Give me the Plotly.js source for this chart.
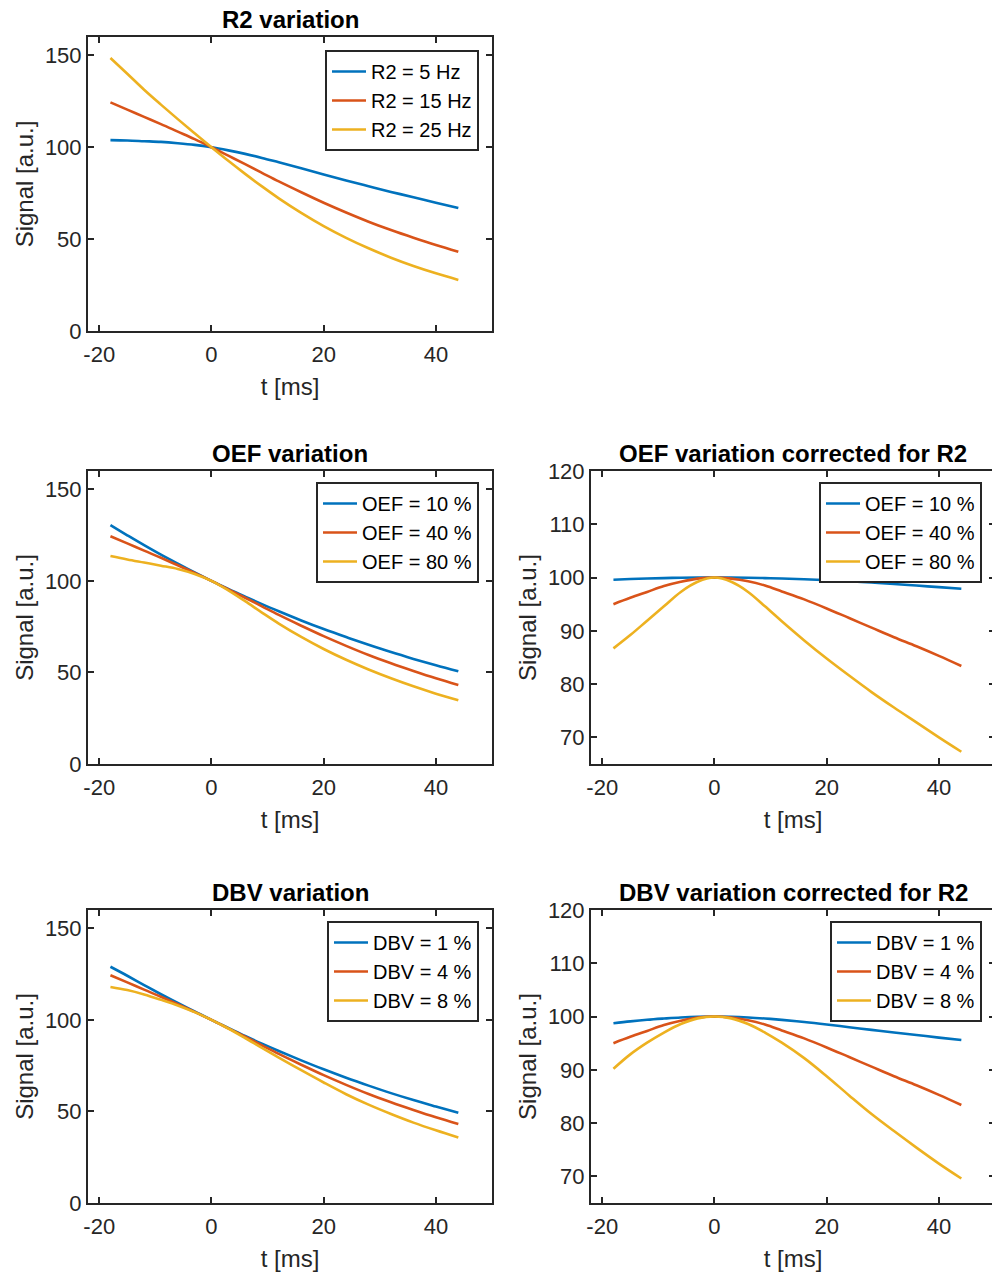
<!DOCTYPE html>
<html>
<head>
<meta charset="utf-8">
<script src="https://cdn.plot.ly/plotly-3.0.1.min.js"></script>
<style>
  html, body { margin: 0; padding: 0; overflow: hidden; background: #ffffff; }
  #chart { width: 1000px; height: 1277px; }
</style>
</head>
<body>
<div id="chart"></div>
<script>
// ---- data ----
var t = [-18, -15, -12, -9, -6, -3, 0, 3, 6, 9, 12, 16, 20, 24, 28, 32, 36, 40, 44];

// R2 variation
var r2_5  = [103.9, 103.7, 103.3, 102.9, 102.2, 101.3, 100, 98.3, 96.4, 94.2, 91.8, 88.6, 85.2, 81.9, 78.8, 75.7, 72.8, 69.8, 66.9];
var r2_15 = [124.4, 120.5, 116.5, 112.6, 108.5, 104.4, 100, 95.4, 90.8, 86.1, 81.4, 75.5, 69.8, 64.5, 59.5, 55.0, 50.8, 46.8, 43.1];
var r2_25 = [148.6, 140.0, 131.3, 123.2, 115.3, 107.6, 100, 92.6, 85.5, 78.7, 72.2, 64.3, 57.1, 50.7, 45.0, 39.9, 35.4, 31.4, 27.8];

// OEF variation
var oef_10 = [130.4, 124.9, 119.5, 114.3, 109.4, 104.6, 100, 95.6, 91.4, 87.3, 83.4, 78.4, 73.7, 69.3, 65.1, 61.1, 57.4, 53.9, 50.6];
var oef_40 = [124.4, 120.5, 116.5, 112.6, 108.5, 104.4, 100, 95.4, 90.8, 86.1, 81.4, 75.5, 69.8, 64.5, 59.5, 55.0, 50.8, 46.8, 43.1];
var oef_80 = [113.6, 111.7, 110.0, 108.3, 106.5, 103.8, 100, 94.8, 88.9, 82.7, 76.7, 69.4, 62.8, 56.9, 51.6, 46.8, 42.4, 38.4, 34.8];

// OEF variation corrected for R2
var oefc_10 = [99.6, 99.73, 99.83, 99.9, 99.96, 100, 100, 100, 99.96, 99.9, 99.83, 99.69, 99.52, 99.32, 99.06, 98.8, 98.5, 98.2, 97.9];
var oefc_40 = [95.0, 96.2, 97.3, 98.4, 99.2, 99.8, 100, 99.8, 99.3, 98.5, 97.4, 95.9, 94.2, 92.4, 90.6, 88.8, 87.1, 85.3, 83.4];
var oefc_80 = [86.7, 89.2, 91.9, 94.6, 97.3, 99.2, 100, 99.2, 97.3, 94.6, 91.8, 88.2, 84.8, 81.6, 78.5, 75.6, 72.8, 70.0, 67.3];

// DBV variation
var dbv_1 = [129.0, 124.1, 119.0, 114.0, 109.2, 104.6, 100, 95.6, 91.2, 87.0, 83.0, 77.9, 73.0, 68.4, 64.1, 60.0, 56.2, 52.7, 49.3];
var dbv_4 = [124.4, 120.5, 116.5, 112.6, 108.5, 104.4, 100, 95.4, 90.8, 86.1, 81.4, 75.5, 69.8, 64.5, 59.5, 55.0, 50.8, 46.8, 43.1];
var dbv_8 = [118.0, 116.3, 113.9, 111.0, 107.9, 104.2, 100, 95.3, 90.1, 84.7, 79.4, 72.5, 65.8, 59.4, 53.7, 48.6, 43.9, 39.7, 35.8];

// DBV variation corrected for R2
var dbvc_1 = [98.75, 99.1, 99.4, 99.63, 99.83, 99.96, 100, 99.96, 99.83, 99.63, 99.38, 98.99, 98.52, 98.0, 97.5, 97.0, 96.55, 96.05, 95.6];
var dbvc_4 = [95.0, 96.2, 97.3, 98.4, 99.2, 99.8, 100, 99.8, 99.3, 98.5, 97.4, 95.9, 94.2, 92.4, 90.6, 88.8, 87.1, 85.3, 83.4];
var dbvc_8 = [90.2, 92.9, 95.1, 97.0, 98.6, 99.66, 100, 99.66, 98.6, 97.0, 95.1, 92.2, 88.8, 85.2, 81.7, 78.5, 75.4, 72.4, 69.6];

var xTicks = [-20, 0, 20, 40];
var xTickLabels = ['-20', '0', '20', '40'];
var yTicksLeft = [0, 50, 100, 150];
var yTicksRight = [70, 80, 90, 100, 110, 120];

var titles = ['R2 variation', 'OEF variation', 'OEF variation corrected for R2', 'DBV variation', 'DBV variation corrected for R2'];
var names = [
  ['R2 = 5 Hz', 'R2 = 15 Hz', 'R2 = 25 Hz'],
  ['OEF = 10 %', 'OEF = 40 %', 'OEF = 80 %'],
  ['OEF = 10 %', 'OEF = 40 %', 'OEF = 80 %'],
  ['DBV = 1 %', 'DBV = 4 %', 'DBV = 8 %'],
  ['DBV = 1 %', 'DBV = 4 %', 'DBV = 8 %']
];
var series = [
  [r2_5, r2_15, r2_25],
  [oef_10, oef_40, oef_80],
  [oefc_10, oefc_40, oefc_80],
  [dbv_1, dbv_4, dbv_8],
  [dbvc_1, dbvc_4, dbvc_8]
];

// ---- styling / layout ----
var colors = ['#0072BD', '#D95319', '#EDB120'];
var W = 1000, H = 1277;
var FONT = 'Liberation Sans, Arial, Helvetica, sans-serif';
var INK = '#262626';

// panel boxes in pixels: [left, right, top, bottom]
var boxes = [
  [88, 492, 37, 331],
  [88, 492, 471, 764],
  [591, 995, 471, 764],
  [88, 492, 910, 1203],
  [591, 995, 910, 1203]
];
var yRanges = [[0, 160], [0, 160], [65, 120], [0, 160], [65, 120]];
var yTickSets = [yTicksLeft, yTicksLeft, yTicksRight, yTicksLeft, yTicksRight];
var legendRight = [479, 479, 982, 479, 982];
var legendTop = [50, 482, 482, 921, 921];

var data = [];
var layout = {
  width: W, height: H,
  margin: {l: 0, r: 0, t: 0, b: 0},
  paper_bgcolor: '#ffffff',
  plot_bgcolor: '#ffffff',
  showlegend: true,
  annotations: [],
  font: {family: FONT, color: INK}
};

for (var p = 0; p < 5; p++) {
  var sfx = p === 0 ? '' : String(p + 1);
  var legId = p === 0 ? 'legend' : 'legend' + (p + 1);
  for (var s = 0; s < 3; s++) {
    data.push({
      type: 'scatter', mode: 'lines',
      x: t, y: series[p][s],
      name: names[p][s],
      line: {color: colors[s], width: 2.6, shape: 'spline', smoothing: 1},
      xaxis: 'x' + sfx, yaxis: 'y' + sfx,
      legend: legId,
      hoverinfo: 'skip'
    });
  }
  var b = boxes[p];
  var axCommon = {
    showline: true, mirror: 'ticks', linecolor: INK, linewidth: 2,
    ticks: 'inside', ticklen: 6, tickwidth: 1.5, tickcolor: INK,
    showgrid: false, zeroline: false,
    tickfont: {family: FONT, size: 22, color: INK},
    fixedrange: true
  };
  layout['xaxis' + sfx] = Object.assign({}, axCommon, {
    domain: [b[0] / W, b[1] / W],
    anchor: 'y' + sfx,
    range: [-22, 50],
    tickmode: 'array',
    tickvals: xTicks,
    ticktext: xTickLabels,
    ticklabelstandoff: 3,
    title: {text: 't [ms]', font: {family: FONT, size: 24, color: INK}, standoff: 12}
  });
  layout['yaxis' + sfx] = Object.assign({}, axCommon, {
    domain: [1 - b[3] / H, 1 - b[2] / H],
    anchor: 'x' + sfx,
    range: yRanges[p],
    tickmode: 'array',
    tickvals: yTickSets[p],
    title: {text: 'Signal [a.u.]', font: {family: FONT, size: 24, color: INK}, standoff: 4}
  });
  layout[legId] = {
    x: legendRight[p] / W, xanchor: 'right', xref: 'paper',
    y: 1 - legendTop[p] / H, yanchor: 'top', yref: 'paper',
    bgcolor: '#ffffff', bordercolor: INK, borderwidth: 2,
    font: {family: FONT, size: 20, color: '#000000'},
    itemwidth: 34, tracegroupgap: 0
  };
  layout.annotations.push({
    text: '<b>' + titles[p] + '</b>',
    xref: 'paper', yref: 'paper',
    x: (b[0] + b[1]) / 2 / W, y: 1 - (b[2] - 18) / H,
    xanchor: 'center', yanchor: 'middle',
    showarrow: false,
    font: {family: FONT, size: 24, color: '#000000'}
  });
}

Plotly.newPlot('chart', data, layout, {displayModeBar: false, responsive: false});
</script>
</body>
</html>
